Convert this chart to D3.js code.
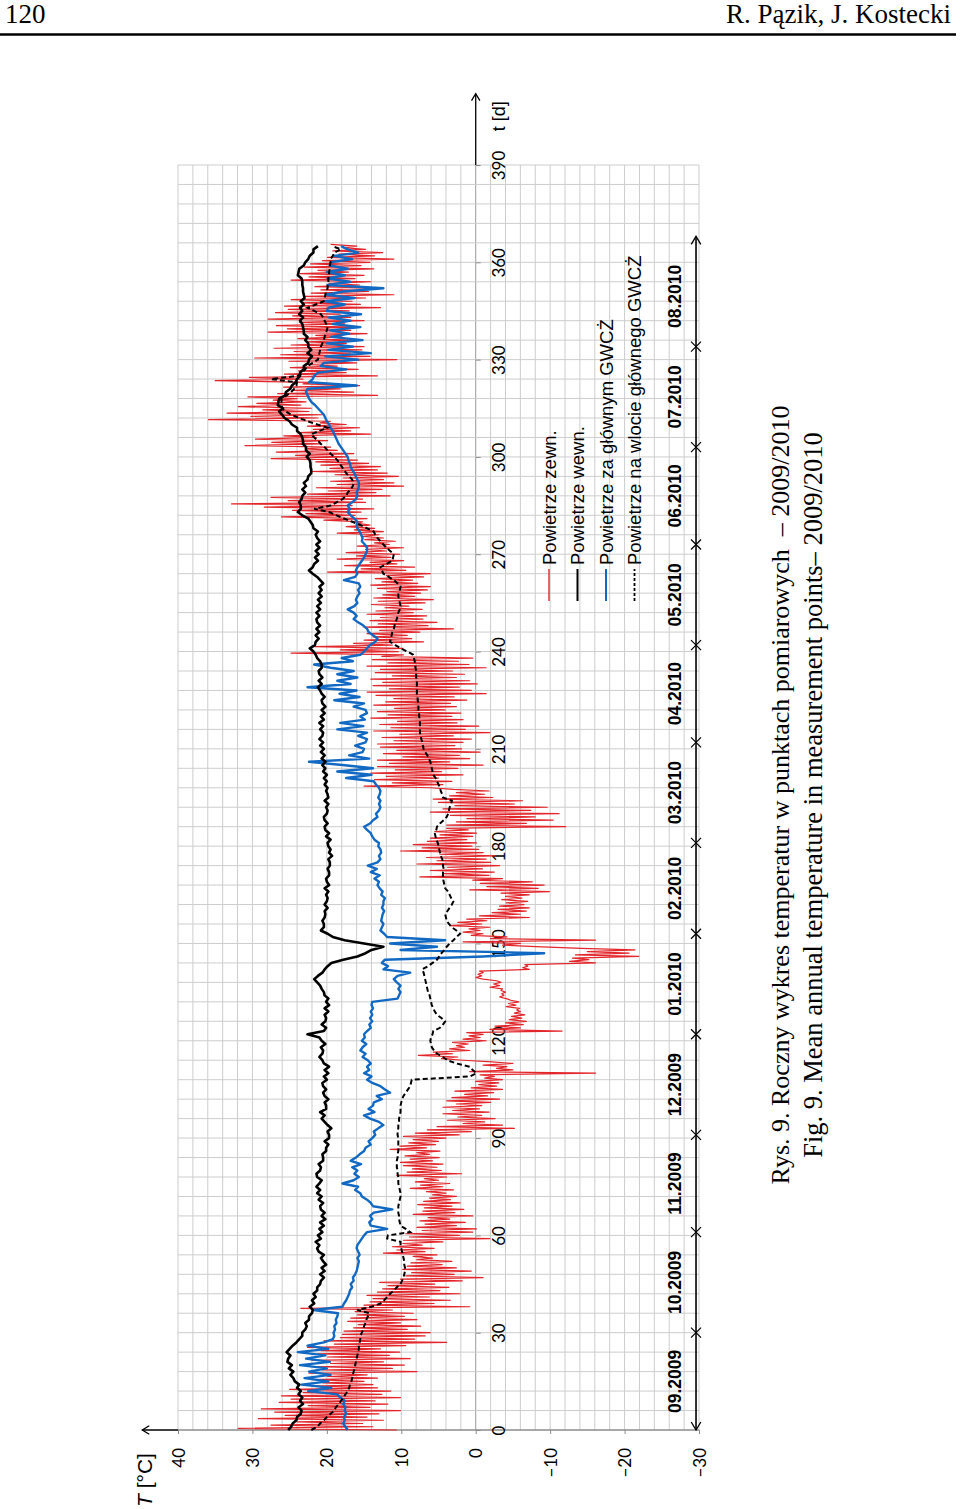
<!DOCTYPE html>
<html>
<head>
<meta charset="utf-8">
<script src="https://cdn.jsdelivr.net/npm/d3@7/dist/d3.min.js"></script>
<style>
    body { margin: 0; background: #fff; }
    svg text { fill: #000; }
</style>
</head>
<body>
<div id="chart"></div>
<script>
// ---- data (t in days from 01.09.2009, T in °C) ----
const tempTicks = [40, 30, 20, 10, 0, -10, -20, -30];
const dayTicks = [0, 30, 60, 90, 120, 150, 180, 210, 240, 270, 300, 330, 360, 390];
const monthLabels = ['09.2009', '10.2009', '11.2009', '12.2009', '01.2010', '02.2010',
    '03.2010', '04.2010', '05.2010', '06.2010', '07.2010', '08.2010'];
const monthStarts = [0, 30, 61, 91, 122, 153, 181, 212, 242, 273, 303, 334, 365];
const legendLabels = ['Powietrze zewn.', 'Powietrze wewn.', 'Powietrze za głównym GWCŻ',
    'Powietrze na wlocie głównego GWCŻ'];

// Powietrze zewn. - daily minimum / maximum
const outdoorMin = [
    10.6, 13.8, 15.2, 12.4, 14.6, 13.0, 10.1, 14.2, 11.8, 13.5,
    10.1, 12.6, 11.4, 13.2, 13.8, 15.0, 13.2, 14.6, 7.9, 11.2,
    9.6, 12.4, 8.8, 11.6, 10.2, 12.8, 9.4, 3.9, 8.2, 6.8,
    6.1, 9.2, 7.4, 10.1, 7.9, 9.6, 8.4, 11.2, 0.8, 5.6,
    3.4, 6.2, 2.1, 4.8, 3.6, 5.5, 1.8, -1.0, 2.9, 0.6,
    2.6, 4.5, 3.2, 5.8, 5.2, 6.8, 5.6, 7.2, 4.4, -1.9,
    2.2, 0.4, -0.1, 2.6, 1.4, 3.5, 0.4, 2.8, 1.6, 3.2,
    2.1, 3.4, 2.6, 4.0, 3.0, 4.4, 3.5, 5.0, 3.9, 1.9,
    4.6, 5.2, 4.4, 5.8, 4.9, 6.2, 4.8, 6.6, 5.4, 5.0,
    4.0, 2.2, 0.6, -5.2, -3.6, -1.2, -2.6, -0.8, -1.8, -0.5,
    -0.8, -2.0, -3.2, -1.6, -2.4, -3.6, -2.8, -3.1, -3.6, -2.5,
    -16.1, -5.0, -4.2, -5.0, 1.7, 2.4, 3.1, 0.8, 1.5, 1.0,
    -1.4, -0.6, -1.0, -11.6, -6.0, -6.4, -6.8, -6.2, -6.6, -6.0,
    -5.9, -5.4, -5.8, -4.1, -3.8, -4.0, -3.6, -3.2, -3.4, -1.0,
    -0.8, -1.0, -7.2, -7.0, -16.1, -15.2, -21.9, -20.6, -21.4, -8.1,
    -6.0, -16.1, -4.2, -1.0, -0.6, -1.9, -0.8, -1.5, -7.2, -6.0,
    -6.8, -7.2, -6.5, -7.0, -6.2, -7.2, -9.9, -8.4, -9.2, -7.6,
    -3.6, -1.8, -2.5, -0.9, -3.2, -2.0, -1.4, -2.6, -1.0, -0.4,
    0.5, -0.1, 1.2, 0.4, -0.1, 1.0, -12.1, -6.8, -10.4, -8.0,
    -11.2, -7.4, -9.6, -5.2, -6.3, -2.3, -1.2, -1.8, 6.1, 4.4,
    3.2, 5.0, 1.7, 4.6, 2.4, -1.0, 3.5, 0.8, 2.2, -0.6,
    1.9, 2.8, 1.7, 0.6, 3.0, -1.9, 1.4, -0.4, 2.5, 1.7,
    3.2, 2.0, 4.1, 2.6, 3.4, 1.2, 2.9, -1.4, 0.6, 2.2,
    -0.2, 0.8, 2.6, 1.5, 3.1, -1.4, 0.9, 2.3, 0.4, 9.7,
    10.4, 9.8, 11.2, 7.0, 8.6, 9.2, 7.5, 3.0, 6.4, 5.2,
    7.1, 6.6, 8.4, 7.2, 9.0, 6.8, 5.7, 8.2, 7.4, 6.5,
    6.1, 7.8, 8.5, 7.0, 6.1, 9.4, 8.2, 10.6, 9.7, 11.4,
    10.2, 12.0, 9.7, 11.6, 10.8, 12.4, 13.0, 12.4, 13.6, 14.2,
    15.2, 14.6, 16.2, 15.4, 13.7, 16.6, 14.8, 15.2, 11.5, 13.4,
    12.6, 9.7, 11.0, 12.4, 10.4, 11.9, 13.2, 12.8, 14.4, 15.9,
    17.2, 16.4, 18.6, 19.5, 20.8, 19.9, 21.4, 14.1, 16.8, 15.6,
    17.4, 19.5, 21.2, 20.6, 22.4, 22.1, 23.5, 22.8, 24.0, 13.2,
    16.4, 18.2, 15.6, 22.1, 23.2, 13.2, 17.4, 15.8, 18.6, 16.0,
    10.6, 14.2, 16.8, 15.3, 15.0, 17.4, 16.2, 18.0, 14.6, 16.8,
    15.9, 17.6, 15.0, 16.8, 18.2, 17.0, 12.8, 15.5, 16.6, 14.8,
    11.0, 14.4, 13.2, 15.6, 14.1, 16.2, 15.0, 17.1, 13.7, 15.4,
    14.2, 11.0, 13.6, 12.5, 14.8, 16.0
];
const outdoorMax = [
    31.9, 27.5, 24.0, 29.2, 25.6, 27.0, 28.8, 22.5, 26.4, 24.8,
    26.1, 23.2, 25.0, 21.8, 20.5, 21.9, 19.9, 22.4, 20.6, 21.5,
    19.5, 22.0, 19.9, 21.2, 20.8, 22.6, 19.0, 20.4, 18.2, 17.9,
    17.7, 16.4, 15.8, 17.2, 16.8, 15.9, 16.2, 23.5, 15.0, 14.2,
    13.8, 14.6, 13.2, 12.5, 11.8, 12.9, 10.1, 9.4, 8.6, 9.8,
    9.2, 8.7, 7.9, 8.4, 12.4, 10.6, 11.2, 9.8, 9.7, 8.9,
    9.4, 7.2, 7.9, 6.8, 7.5, 6.4, 8.4, 7.1, 6.9, 7.8,
    7.0, 6.2, 5.8, 6.6, 8.8, 7.4, 8.1, 6.9, 10.6, 9.2,
    8.5, 9.7, 10.1, 8.8, 9.5, 7.9, 11.5, 10.2, 9.0, 8.4,
    9.7, 8.1, 6.5, 5.2, 1.7, 3.8, 2.4, 4.4, 3.1, 4.4,
    2.6, 3.9, 3.2, 1.5, 2.8, 0.6, -0.4, 0.0, -1.2, -0.6,
    0.8, -2.8, -1.0, -2.2, 4.6, 7.7, 5.7, 3.5, 2.6, 3.1,
    1.7, 0.9, 1.2, -1.9, -2.6, -4.0, -4.5, -4.8, -5.2, -5.5,
    -4.1, -4.4, -4.7, -3.2, -3.5, -3.4, -1.9, -2.4, -2.8, 0.0,
    -0.3, -0.5, -6.3, -6.6, -12.6, -13.0, -13.4, -15.0, -14.2, -3.6,
    1.7, -2.0, 0.6, 1.7, 0.9, 3.5, 2.4, 1.2, -0.5, -2.2,
    -3.0, -3.2, -4.1, -3.5, -4.0, -3.4, 0.8, -1.5, -0.6, 0.4,
    7.5, 4.2, 6.1, 3.8, 7.9, 5.2, 6.6, 4.8, 10.1, 7.2,
    8.4, 6.5, 6.1, 4.8, 5.5, 3.9, 3.9, 2.6, 1.2, 3.4,
    6.1, 4.4, 2.8, 5.0, 5.7, 3.5, 2.6, 3.0, 15.0, 11.2,
    13.6, 12.0, 14.1, 10.8, 13.2, 11.6, 13.2, 9.8, 12.4, 10.6,
    12.8, 13.2, 11.0, 12.6, 10.2, 13.7, 11.4, 12.9, 10.5, 14.1,
    11.8, 13.2, 10.9, 13.7, 12.1, 11.0, 13.4, 14.6, 11.6, 13.8,
    12.5, 14.1, 11.2, 13.5, 12.8, 14.6, 11.8, 13.9, 12.6, 24.8,
    18.2, 21.6, 16.4, 15.0, 13.8, 14.6, 12.9, 15.0, 13.1, 14.2,
    12.8, 14.6, 13.4, 12.2, 14.0, 13.1, 13.7, 12.5, 11.9, 13.2,
    14.1, 12.6, 13.5, 12.0, 19.9, 15.4, 17.6, 14.2, 18.6, 16.0,
    17.4, 14.8, 15.9, 13.6, 14.9, 15.2, 18.6, 16.3, 17.4, 15.8,
    20.4, 26.1, 22.8, 24.6, 28.4, 32.8, 25.2, 27.5, 22.6, 19.8,
    21.4, 18.6, 19.5, 17.8, 18.9, 22.1, 19.6, 20.8, 21.5, 27.5,
    24.2, 26.8, 22.9, 31.0, 27.4, 29.6, 25.8, 23.9, 21.8, 22.6,
    20.9, 35.9, 30.2, 33.4, 28.6, 31.9, 29.4, 27.2, 30.6, 26.6,
    24.5, 25.8, 23.2, 35.0, 30.4, 25.7, 23.8, 24.9, 22.6, 25.1,
    29.7, 26.2, 24.4, 27.1, 24.8, 22.6, 23.9, 21.5, 27.9, 25.3,
    26.8, 23.7, 27.9, 24.6, 26.9, 25.2, 25.7, 23.4, 24.8, 22.9,
    22.1, 20.8, 21.6, 19.7, 24.8, 22.4, 23.6, 21.2, 23.0, 22.2,
    20.6, 19.9, 18.4, 19.2, 17.8, 19.5
];
// Powietrze wewn.
const indoor = [
    25.2, 24.8, 24.6, 24.1, 24.0, 23.5, 23.4, 23.8, 23.2, 23.6,
    23.3, 23.8, 23.5, 24.0, 23.7, 24.3, 24.5, 24.9, 24.5, 25.1,
    24.7, 25.3, 25.2, 24.9, 25.4, 25.0, 24.6, 24.1, 23.7, 23.3,
    23.3, 22.9, 22.7, 22.9, 22.4, 22.4, 22.0, 21.9, 22.3, 21.7,
    22.0, 21.5, 21.8, 21.3, 21.3, 20.9, 20.8, 20.4, 20.9, 20.3,
    20.7, 20.1, 20.5, 20.8, 20.4, 21.1, 21.3, 21.0, 21.5, 20.8,
    21.2, 20.6, 21.0, 20.4, 20.9, 20.2, 20.7, 20.3, 20.8, 20.9,
    20.5, 21.1, 20.7, 21.3, 20.9, 21.4, 21.0, 20.7, 21.3, 21.4,
    20.9, 20.8, 21.1, 20.5, 20.5, 20.6, 20.1, 20.1, 19.8, 20.3,
    19.7, 19.7, 19.9, 19.4, 19.9, 20.3, 20.7, 20.3, 20.9, 20.1,
    20.1, 20.3, 19.8, 20.3, 20.5, 20.1, 20.5, 20.6, 20.0, 20.4,
    19.8, 20.3, 19.7, 20.4, 20.6, 21.0, 20.6, 20.5, 20.8, 20.2,
    20.7, 21.0, 22.6, 20.4, 20.1, 20.7, 20.2, 20.1, 20.3, 19.8,
    20.3, 19.7, 20.1, 19.8, 20.3, 20.4, 20.7, 20.9, 21.3, 21.7,
    21.2, 20.6, 20.3, 19.9, 19.4, 17.8, 15.9, 14.8, 14.0, 12.4,
    15.0, 17.6, 19.2, 19.9, 20.8, 20.4, 20.4, 20.6, 20.3, 20.2,
    20.3, 19.9, 20.3, 20.0, 19.9, 20.1, 19.8, 20.3, 19.7, 20.0,
    20.1, 19.7, 19.7, 19.9, 19.6, 19.6, 19.8, 19.3, 19.7, 19.5,
    19.8, 19.9, 19.5, 20.1, 19.7, 20.2, 20.3, 19.9, 20.3, 20.4,
    20.0, 19.9, 20.1, 19.8, 20.3, 19.8, 19.9, 20.1, 19.9, 20.3,
    20.0, 20.4, 20.0, 20.5, 20.2, 20.6, 20.2, 20.7, 20.3, 20.8,
    20.4, 20.9, 20.5, 21.0, 20.6, 20.5, 20.9, 20.5, 21.0, 20.4,
    20.8, 20.3, 20.7, 20.2, 20.6, 20.7, 20.3, 20.7, 20.9, 21.2,
    20.7, 21.1, 20.6, 21.0, 21.1, 20.7, 20.7, 20.9, 21.3, 21.5,
    21.8, 22.3, 21.6, 21.5, 21.1, 21.5, 21.0, 21.4, 20.9, 21.3,
    21.4, 21.0, 21.4, 20.9, 21.3, 20.8, 21.2, 20.7, 21.1, 20.7,
    21.0, 20.5, 20.9, 21.3, 21.9, 22.4, 21.9, 21.7, 21.2, 21.6,
    21.1, 21.5, 21.0, 21.4, 20.9, 21.3, 21.5, 21.2, 21.8, 21.9,
    22.2, 22.5, 23.3, 23.9, 23.5, 23.5, 23.7, 23.4, 23.3, 22.9,
    23.3, 22.8, 23.1, 22.6, 22.5, 22.1, 22.1, 22.2, 22.2, 22.3,
    22.7, 22.3, 22.8, 22.8, 23.2, 23.2, 23.3, 23.5, 24.0, 24.0,
    24.7, 25.0, 25.7, 26.0, 26.4, 25.9, 26.6, 26.5, 26.4, 25.6,
    25.5, 24.9, 24.7, 24.2, 24.0, 23.6, 23.6, 23.1, 23.1, 22.5,
    22.4, 22.0, 22.6, 22.1, 22.5, 22.5, 22.9, 22.6, 23.1, 23.1,
    23.2, 23.3, 23.6, 23.2, 23.7, 23.3, 23.6, 23.1, 23.5, 23.0,
    23.1, 23.2, 23.2, 23.3, 23.3, 23.4, 23.9, 23.8, 23.7, 23.1,
    22.9, 22.5, 22.3, 21.8, 21.8, 21.2
];
// Powietrze za głównym GWCŻ
const afterGwc = [
    17.2, 17.5, 17.8, 17.6, 17.7, 17.4, 17.6, 17.5, 17.8, 17.6,
    18.2, 18.6, 22.5, 19.4, 23.4, 19.8, 23.0, 19.5, 22.4, 20.0,
    23.6, 19.6, 22.8, 20.2, 23.9, 19.8, 22.6, 20.4, 19.2, 19.0,
    19.1, 18.9, 19.0, 18.7, 18.8, 18.6, 18.5, 21.8, 17.9, 17.7,
    17.4, 17.2, 17.0, 16.9, 16.6, 16.8, 16.4, 16.5, 16.2, 16.0,
    15.9, 15.8, 15.7, 15.9, 15.6, 15.8, 16.0, 15.9, 15.6, 15.3,
    15.0, 14.6, 11.9, 14.1, 14.3, 13.9, 14.2, 13.7, 11.2, 13.8,
    14.1, 14.6, 15.3, 15.5, 16.2, 15.8, 17.9, 16.4, 15.7, 16.3,
    15.9, 16.6, 15.4, 16.8, 16.1, 15.6, 15.0, 14.8, 14.1, 14.4,
    13.9, 13.5, 13.7, 13.1, 12.4, 13.0, 14.2, 15.0, 13.6, 14.4,
    13.8, 13.7, 12.6, 13.3, 11.5, 12.2, 12.8, 13.9, 14.6, 14.0,
    15.0, 14.3, 14.6, 14.1, 14.5, 15.2, 14.8, 15.5, 15.2, 14.7,
    15.3, 14.9, 15.0, 14.6, 14.1, 14.3, 13.9, 14.2, 13.9, 14.1,
    13.8, 14.0, 13.9, 10.5, 10.3, 10.1, 10.4, 10.1, 10.6, 11.0,
    10.5, 8.8, 12.4, 11.8, 12.6, 12.2, -1.0, -9.2, 10.1, 5.2,
    11.5, 4.1, 11.9, 12.3, 12.8, 12.6, 12.4, 12.7, 12.6, 12.5,
    12.3, 12.6, 12.4, 12.4, 12.2, 12.7, 12.5, 12.9, 13.2, 13.0,
    13.6, 12.9, 14.1, 13.3, 14.5, 13.2, 12.8, 13.0, 12.7, 12.8,
    13.1, 13.0, 13.6, 13.9, 14.1, 14.6, 15.0, 14.2, 13.8, 13.2,
    13.4, 13.0, 12.8, 13.0, 12.8, 13.1, 12.9, 12.8, 13.0, 13.4,
    13.7, 17.4, 14.0, 18.6, 13.8, 17.9, 22.4, 14.3, 17.0, 15.2,
    15.0, 16.2, 14.8, 14.6, 15.8, 14.6, 18.6, 15.1, 18.2, 14.9,
    15.5, 14.6, 14.8, 16.4, 15.0, 19.0, 15.6, 18.3, 16.0, 22.6,
    16.8, 18.6, 15.9, 18.6, 16.4, 19.5, 21.7, 16.5, 18.0, 15.5,
    15.0, 14.6, 14.2, 13.5, 13.2, 13.8, 14.4, 14.6, 15.1, 15.8,
    16.4, 16.0, 16.4, 17.2, 16.3, 15.9, 16.1, 15.9, 15.6, 15.8,
    15.5, 15.7, 17.7, 16.2, 15.9, 16.1, 15.9, 15.6, 15.3, 15.0,
    14.8, 14.6, 14.6, 14.9, 15.3, 15.2, 15.4, 15.6, 15.9, 16.0,
    15.9, 16.3, 16.8, 17.2, 16.9, 17.2, 16.6, 16.1, 15.9, 16.0,
    15.8, 15.7, 15.7, 15.9, 16.1, 16.3, 16.6, 16.8, 16.9, 17.1,
    17.2, 17.5, 17.8, 18.1, 18.4, 18.6, 18.8, 19.0, 19.2, 19.5,
    19.7, 20.0, 20.2, 20.4, 20.8, 21.2, 21.6, 22.1, 22.4, 22.6,
    22.8, 22.6, 16.0, 22.4, 21.9, 21.7, 21.2, 17.4, 20.8, 20.4,
    15.8, 20.2, 14.1, 19.8, 16.5, 20.0, 15.2, 19.4, 17.0, 19.6,
    15.5, 19.2, 16.8, 19.7, 15.4, 20.0, 19.8, 17.6, 20.2, 16.3,
    20.1, 17.8, 12.4, 19.9, 16.9, 19.9, 17.6, 20.0, 17.2, 19.6,
    19.5, 16.6, 19.0, 15.8, 17.2, 18.1
];
// Powietrze na wlocie głównego GWCŻ
const gwcInlet = [
    22.1, 21.3, 20.9, 20.4, 20.0, 19.5, 19.0, 18.8, 18.4, 18.1,
    17.8, 17.5, 17.2, 17.0, 16.9, 16.7, 16.6, 16.5, 16.4, 16.3,
    16.2, 16.1, 16.0, 15.9, 15.8, 15.7, 15.7, 15.6, 15.5, 15.5,
    15.3, 15.1, 15.0, 14.8, 14.7, 14.5, 14.3, 15.9, 14.0, 12.8,
    12.3, 11.9, 11.5, 11.0, 10.6, 10.1, 9.9, 9.7, 9.6, 9.5,
    9.5, 9.6, 9.6, 9.7, 9.8, 9.9, 10.0, 10.1, 10.1, 11.9,
    11.8, 8.8, 9.4, 10.1, 10.2, 10.3, 10.3, 10.4, 10.4, 10.4,
    10.3, 10.2, 10.1, 10.1, 10.2, 10.3, 10.4, 10.4, 10.4, 10.5,
    10.5, 10.6, 10.6, 10.6, 10.5, 10.5, 10.4, 10.4, 10.4, 10.4,
    10.4, 10.5, 10.5, 10.4, 10.4, 10.3, 10.3, 10.2, 10.1, 10.1,
    10.1, 10.0, 9.9, 9.7, 9.4, 9.1, 8.8, 8.7, 8.6, 0.8,
    -0.1, 0.4, 0.8, 2.6, 3.8, 4.4, 5.2, 5.6, 5.9, 6.0,
    6.1, 6.0, 5.8, 5.7, 4.8, 4.4, 4.1, 4.6, 5.2, 5.5,
    5.7, 5.9, 6.0, 6.1, 6.2, 6.4, 6.5, 6.6, 6.7, 6.8,
    6.9, 7.0, 7.2, 6.4, 5.8, 5.2, 4.9, 4.6, 4.2, 3.9,
    3.5, 3.0, 2.6, 2.1, 2.6, 3.2, 3.6, 3.9, 4.0, 4.1,
    3.8, 3.5, 3.2, 3.0, 3.3, 3.5, 3.7, 4.1, 4.2, 4.3,
    4.4, 4.4, 4.4, 4.3, 4.4, 4.4, 4.5, 4.7, 4.8, 4.9,
    5.0, 5.1, 5.3, 5.4, 5.5, 5.3, 5.2, 4.8, 4.3, 3.9,
    3.7, 3.6, 3.5, 3.3, 3.2, 4.4, 4.5, 4.7, 4.8, 5.0,
    5.2, 5.4, 5.7, 5.8, 5.9, 6.0, 6.1, 6.3, 6.5, 6.8,
    7.0, 7.1, 7.2, 7.3, 7.4, 7.5, 7.5, 7.5, 7.5, 7.5,
    7.6, 7.6, 7.7, 7.7, 7.7, 7.8, 7.8, 7.9, 7.9, 7.9,
    7.9, 7.9, 8.0, 8.0, 8.0, 8.1, 8.1, 8.2, 8.3, 8.4,
    9.2, 10.1, 10.8, 11.5, 11.4, 11.3, 11.2, 11.0, 10.9, 10.8,
    10.6, 10.5, 10.4, 10.2, 10.1, 10.2, 10.3, 10.4, 10.4, 10.2,
    10.1, 10.5, 11.0, 11.7, 12.4, 12.6, 12.8, 12.0, 11.2, 11.1,
    11.0, 11.5, 12.0, 12.4, 12.8, 13.2, 13.5, 13.7, 14.6, 15.5,
    16.6, 17.7, 18.7, 19.7, 21.7, 19.5, 18.7, 17.9, 17.4, 17.2,
    16.8, 16.5, 16.4, 16.6, 17.0, 17.4, 17.7, 18.0, 18.3, 18.6,
    19.0, 19.5, 19.9, 20.3, 20.8, 21.2, 21.7, 22.1, 21.0, 19.9,
    21.3, 22.6, 23.7, 24.8, 25.5, 26.0, 26.1, 26.1, 26.1, 25.4,
    24.8, 24.4, 24.1, 24.0, 27.5, 23.9, 23.3, 22.9, 22.6, 21.9,
    21.2, 21.1, 21.0, 20.9, 20.8, 20.6, 20.4, 20.3, 20.2, 20.0,
    19.9, 20.1, 20.3, 20.5, 20.8, 21.7, 22.6, 21.5, 20.4, 20.3,
    20.2, 20.1, 19.9, 19.9, 19.8, 19.8, 19.7, 19.7, 19.6, 19.6,
    19.5, 19.5, 19.2, 19.0, 18.1, 19.3
];

class AnnualChart {
    constructor(target, width, height) {
        this._svg = d3.select(target).append('svg')
            .attr('width', width)
            .attr('height', height);

        // chart is printed rotated: time runs up the page, temperature across it
        this._x = d3.scaleLinear().domain([40, -30]).range([178, 699]);
        this._y = d3.scaleLinear().domain([0, 390]).range([1430, 165]);

        this._grid = this._svg.append('g').attr('class', 'grid');
        this._axes = this._svg.append('g').attr('class', 'axes');
        this._series = this._svg.append('g').attr('class', 'series');
        this._notes = this._svg.append('g').attr('class', 'notes');
    }

    chevron(g, x, y, dir, size = 7) {
        let d;
        if (dir === 'up') d = `M${x - size * 0.6},${y + size} L${x},${y} L${x + size * 0.6},${y + size}`;
        if (dir === 'down') d = `M${x - size * 0.6},${y - size} L${x},${y} L${x + size * 0.6},${y - size}`;
        if (dir === 'left') d = `M${x + size},${y - size * 0.6} L${x},${y} L${x + size},${y + size * 0.6}`;
        g.append('path').attr('d', d).attr('fill', 'none').attr('stroke', '#000').attr('stroke-width', 1.3);
    }

    drawHeader() {
        const g = this._notes;
        g.append('text').attr('x', 5).attr('y', 23)
            .style('font', '27px "Liberation Serif"').text('120');
        g.append('text').attr('x', 951).attr('y', 23).attr('text-anchor', 'end')
            .style('font', '27px "Liberation Serif"').text('R. Pązik, J. Kostecki');
        g.append('line').attr('x1', 0).attr('x2', 956).attr('y1', 34.5).attr('y2', 34.5)
            .attr('stroke', '#000').attr('stroke-width', 2.5);
    }

    drawGrid() {
        const x = this._x, y = this._y;
        this._grid.selectAll('line.v').data(d3.range(-30, 41, 2)).join('line')
            .attr('class', 'v')
            .attr('x1', d => x(d)).attr('x2', d => x(d))
            .attr('y1', y(0)).attr('y2', y(390))
            .attr('stroke', d => d === 0 ? '#9a9a9a' : '#cdcdcd')
            .attr('stroke-width', 1);
        this._grid.selectAll('line.h').data(d3.range(0, 391, 6)).join('line')
            .attr('class', 'h')
            .attr('x1', x(40)).attr('x2', x(-30))
            .attr('y1', d => y(d)).attr('y2', d => y(d))
            .attr('stroke', d => d === 0 ? '#8c8c8c' : '#cdcdcd')
            .attr('stroke-width', d => d === 0 ? 1.3 : 1);
    }

    drawAxes() {
        const x = this._x, y = this._y, g = this._axes;

        const tAxis = g.append('g')
            .attr('transform', `translate(0,${y(0)})`)
            .call(d3.axisBottom(x).tickValues(tempTicks).tickSize(4).tickSizeOuter(0));
        tAxis.select('.domain').remove();
        tAxis.selectAll('line').attr('stroke', '#8c8c8c');
        tAxis.selectAll('text')
            .attr('x', 0).attr('y', 0).attr('dy', '0.36em')
            .attr('transform', 'translate(0,18) rotate(-90)')
            .attr('text-anchor', 'end')
            .style('font', '17px Lato');

        const dAxis = g.append('g')
            .attr('transform', `translate(${x(0)},0)`)
            .call(d3.axisRight(y).tickValues(dayTicks).tickSize(5).tickSizeOuter(0));
        dAxis.select('.domain').remove();
        dAxis.selectAll('line').attr('stroke', '#8c8c8c');
        dAxis.selectAll('text')
            .attr('x', 0).attr('y', 0).attr('dy', '0.36em')
            .attr('transform', 'translate(23,0) rotate(-90)')
            .attr('text-anchor', 'middle')
            .style('font', '17px Lato');

        // arrows of both axes
        const tipY = y(412);
        g.append('line').attr('x1', x(0)).attr('x2', x(0)).attr('y1', y(390)).attr('y2', tipY)
            .attr('stroke', '#000').attr('stroke-width', 1.3);
        this.chevron(g, x(0), tipY, 'up');
        g.append('text')
            .attr('transform', `translate(${x(0) + 23},${y(405)}) rotate(-90)`)
            .attr('dy', '0.36em').attr('text-anchor', 'middle')
            .style('font', '18px "Liberation Sans"').text('t [d]');

        const tipX = x(44.8);
        g.append('line').attr('x1', x(40)).attr('x2', tipX).attr('y1', y(0)).attr('y2', y(0))
            .attr('stroke', '#000').attr('stroke-width', 1.3);
        this.chevron(g, tipX, y(0), 'left');
        const lab = g.append('text')
            .attr('transform', `translate(${tipX + 2},${y(0) + 50}) rotate(-90)`)
            .attr('dy', '0.36em').attr('text-anchor', 'middle')
            .style('font', '21px "Liberation Sans"');
        lab.append('tspan').style('font-style', 'italic').text('T');
        lab.append('tspan').text(' [°C]');
    }

    drawSeries() {
        const x = this._x, y = this._y;
        const line = d3.line().x(d => x(d[1])).y(d => y(d[0]));

        const outdoor = outdoorMin.flatMap((lo, i) => [[i, lo], [i + 0.5, outdoorMax[i]]]);
        const byDay = arr => arr.map((v, i) => [i, v]);

        this._series.append('path').datum(outdoor).attr('d', line)
            .attr('fill', 'none').attr('stroke', '#e3262b').attr('stroke-width', 1.2)
            .attr('stroke-linejoin', 'round');
        this._series.append('path').datum(byDay(afterGwc)).attr('d', line)
            .attr('fill', 'none').attr('stroke', '#1169c3').attr('stroke-width', 2.4)
            .attr('stroke-linejoin', 'round');
        this._series.append('path').datum(byDay(gwcInlet)).attr('d', line)
            .attr('fill', 'none').attr('stroke', '#000').attr('stroke-width', 2)
            .attr('stroke-dasharray', '5,3');
        this._series.append('path').datum(byDay(indoor)).attr('d', line)
            .attr('fill', 'none').attr('stroke', '#000').attr('stroke-width', 2.6)
            .attr('stroke-linejoin', 'round');
    }

    drawMonths() {
        const y = this._y, g = this._notes;
        const ax = this._x(-29.6);
        const top = y(368);
        g.append('line').attr('x1', ax).attr('x2', ax).attr('y1', y(0)).attr('y2', top)
            .attr('stroke', '#000').attr('stroke-width', 1.6);
        this.chevron(g, ax, y(0), 'down', 8);
        this.chevron(g, ax, top, 'up', 8);

        monthStarts.slice(1, -1).forEach(d => {
            const cy = y(d);
            g.append('path')
                .attr('d', `M${ax - 5},${cy - 5} L${ax + 5},${cy + 5} M${ax - 5},${cy + 5} L${ax + 5},${cy - 5}`)
                .attr('stroke', '#000').attr('stroke-width', 1.2);
        });

        g.selectAll('text.month').data(monthLabels).join('text')
            .attr('class', 'month')
            .attr('transform', (d, i) => `translate(${ax - 21},${y((monthStarts[i] + monthStarts[i + 1]) / 2)}) rotate(-90)`)
            .attr('dy', '0.36em').attr('text-anchor', 'middle')
            .style('font', 'bold 17.5px "Liberation Sans Narrow", "Liberation Sans"')
            .text(d => d);
    }

    drawLegend() {
        const g = this._notes.append('g').attr('class', 'legend');
        const styles = [
            { stroke: '#e3262b', width: 1.4, dash: null },
            { stroke: '#000', width: 2, dash: null },
            { stroke: '#1169c3', width: 2, dash: null },
            { stroke: '#000', width: 1.8, dash: '3,2' }
        ];
        legendLabels.forEach((label, i) => {
            const cx = 549 + i * 28.5;
            g.append('line').attr('x1', cx).attr('x2', cx).attr('y1', 601).attr('y2', 569)
                .attr('stroke', styles[i].stroke).attr('stroke-width', styles[i].width)
                .attr('stroke-dasharray', styles[i].dash);
            g.append('text')
                .attr('transform', `translate(${cx},565) rotate(-90)`)
                .attr('dy', '0.36em')
                .style('font', '18.5px "Liberation Sans"')
                .text(label);
        });
    }

    drawCaption() {
        const g = this._notes;
        g.append('text')
            .attr('transform', 'translate(780,795) rotate(-90)')
            .attr('dy', '0.36em').attr('text-anchor', 'middle')
            .style('font', '26px "Liberation Serif"').style('white-space', 'pre')
            .text('Rys. 9. Roczny wykres temperatur w punktach pomiarowych  – 2009/2010');
        g.append('text')
            .attr('transform', 'translate(812,795) rotate(-90)')
            .attr('dy', '0.36em').attr('text-anchor', 'middle')
            .style('font', '26.5px "Liberation Serif"').style('white-space', 'pre')
            .text('Fig. 9. Mean annual temperature in measurement points– 2009/2010');
    }

    render() {
        this.drawHeader();
        this.drawGrid();
        this.drawAxes();
        this.drawSeries();
        this.drawMonths();
        this.drawLegend();
        this.drawCaption();
    }
}

new AnnualChart('#chart', 960, 1509).render();
</script>
</body>
</html>
